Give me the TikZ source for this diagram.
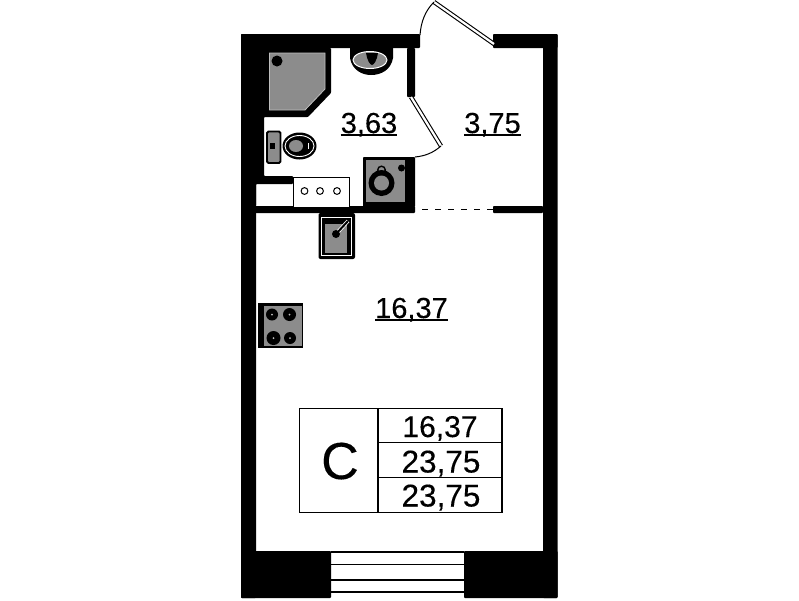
\documentclass[tikz,border=0pt]{standalone}
\usepackage{fontspec}
\setmainfont[RawFeature={embolden=0.25}]{Liberation Sans}
\definecolor{mygray}{RGB}{140,140,140}
\definecolor{myedge}{RGB}{190,190,190}
\tikzset{
	wall/.style = {fill = black, rounded corners = 0.8pt},
	appliance/.style = {fill = mygray, draw = myedge, line width = 0.8pt},
	doorleaf/.style = {double = white, double distance = 2.2pt, line width = 1.1pt},
	swing/.style = {line width = 1pt},
	roomlabel/.style = {anchor = base, font = \fontsize{29}{29}\selectfont, inner sep = 0pt},
	roomline/.style = {line width = 1.4pt},
	tablenum/.style = {anchor = base, font = \fontsize{31.5}{31.5}\selectfont, inner sep = 0pt},
	tableline/.style = {line width = 1.3pt}
}

\begin{document}
\begin{tikzpicture}[x=1pt, y=-1pt]

\useasboundingbox (0,0) rectangle (799,600);
\fill[white] (0,0) rectangle (799,600);


%----------WALLS-------------%
\fill[wall] (241,34) rectangle (420,48);
\fill[wall] (493,34) rectangle (557.5,48);
\fill[wall] (241,34) rectangle (256,598);
\fill[wall] (543,34) rectangle (557.5,598);
\fill[wall] (241,551) rectangle (331,598);
\fill[wall] (464,551) rectangle (557.5,598);
\fill[wall] (407,48) rectangle (415,97);
\fill[wall] (241,206) rectangle (415,213);
\fill[wall] (493,206) rectangle (543,213);
\fill[wall] (241,48) -- (331,48) -- (331,93) -- (308,117) -- (264,117) -- (264,176) -- (293,176)
	-- (293,184) -- (256,184) -- (256,206) -- (241,206) -- cycle;
\fill[wall] (363,157) rectangle (415,207);

%----------WINDOW AND DOORS-------------%
\foreach \y in {552,564.5,580,592}{
	\draw[line width = 1.2pt] (331,\y) -- (464,\y);
};
\draw[doorleaf] (434,2) -- (494,44);
\draw[swing] (420,35) .. controls (421,22) and (425,11) .. (434,2);
\draw[doorleaf] (411,97) -- (441,146);
\draw[swing] (441,146) .. controls (433,153) and (425,156) .. (415,157);
\draw[dashed, dash pattern = on 6pt off 7pt, line width = 0.7pt] (422,209.5) -- (493,209.5);

%----------BATHROOM-------------%
\draw[appliance] (269.5,53) -- (325,53) -- (325,89) -- (305,110) -- (269.5,110) -- cycle;
\fill (277,61) circle (5.5);

\fill (350,48) -- (350,58) .. controls (352,70) and (362,75) .. (371,75)
	.. controls (381,75) and (391,70) .. (393,58) -- (393,48) -- cycle;
\draw[white, fill = mygray, line width = 1pt] (370,60) ellipse (17 and 8.5);
\fill (366,53) -- (378,53) .. controls (377,60) and (374,65) .. (372,65)
	.. controls (370,65) and (367,60) .. (366,53) -- cycle;

\draw[fill = mygray, line width = 1.8pt, rounded corners = 1.5pt] (267,131.5) rectangle (280.5,163);
\fill (270,143) rectangle (275,149);
\fill (299.5,146) ellipse (17 and 13.5);
\draw[white, line width = 0.9pt] (299.5,146) ellipse (14.5 and 10.5);
\fill[mygray] (296,146) ellipse (7 and 6);
\draw[white, line width = 0.9pt] (308,143) -- (308,149);

\draw[line width = 1pt, fill = white] (293,177) rectangle (349,207);
\fill[white] (257,184.5) rectangle (291.5,206);
\foreach \x in {304.5,320,337}{
	\draw[line width = 1pt] (\x,191) circle (3.4);
};

\fill[mygray] (366,160) rectangle (405,202);
\draw[line width = 1.4pt] (381.5,170) circle (3.8);
\fill (381.5,183) circle (13);
\fill[mygray] (381.5,183) circle (7.5);
\fill (401.5,168) circle (3.5);
\fill (405,189) rectangle (408,198);

%----------KITCHEN-------------%
\fill[rounded corners = 2pt] (318.5,213) rectangle (355,259);
\draw[white, line width = 0.7pt] (321.5,217) rectangle (351,255.5);
\fill[mygray] (325,224) rectangle (347,252.5);
\draw[white, line width = 3.6pt] (336,234) -- (348,221);
\draw[line width = 2pt] (336,234) -- (348,221);
\fill (336,234) circle (4);

\fill (258,303) rectangle (302.5,348);
\fill[mygray] (264,306) rectangle (301.5,346);
\foreach \x/\y/\r in {272/314.5/6, 289.5/314.5/6.5, 273.5/338/7, 290/338/6}{
	\fill (\x,\y) circle (\r);
	\fill[myedge] (\x,\y) circle (1);
};

%----------LABELS-------------%
\node[roomlabel] (bathroom) at (369,133) {3,63};
\node[roomlabel] (hall) at (492.5,133) {3,75};
\node[roomlabel] (studio) at (411.5,318) {16,37};
\foreach \room in {bathroom,hall,studio}{
	\draw[roomline] ([yshift=-2pt]\room.base west) -- ([yshift=-2pt]\room.base east);
};

%----------AREA TABLE-------------%
\draw[tableline] (299.5,408.5) rectangle (502,512.5);
\draw[tableline] (378,408.5) -- (378,512.5);
\draw[tableline] (378,442.5) -- (502,442.5);
\draw[tableline] (378,477.5) -- (502,477.5);
\node[anchor = base, font = \fontsize{52}{52}\selectfont, inner sep = 0pt] (type) at (340,479) {C};
\node[tablenum, font = \fontsize{30}{30}\selectfont] (living) at (440,437) {16,37};
\node[tablenum] (total) at (441,472.5) {23,75};
\node[tablenum] (full) at (441,506.5) {23,75};

\end{tikzpicture}
\end{document}
